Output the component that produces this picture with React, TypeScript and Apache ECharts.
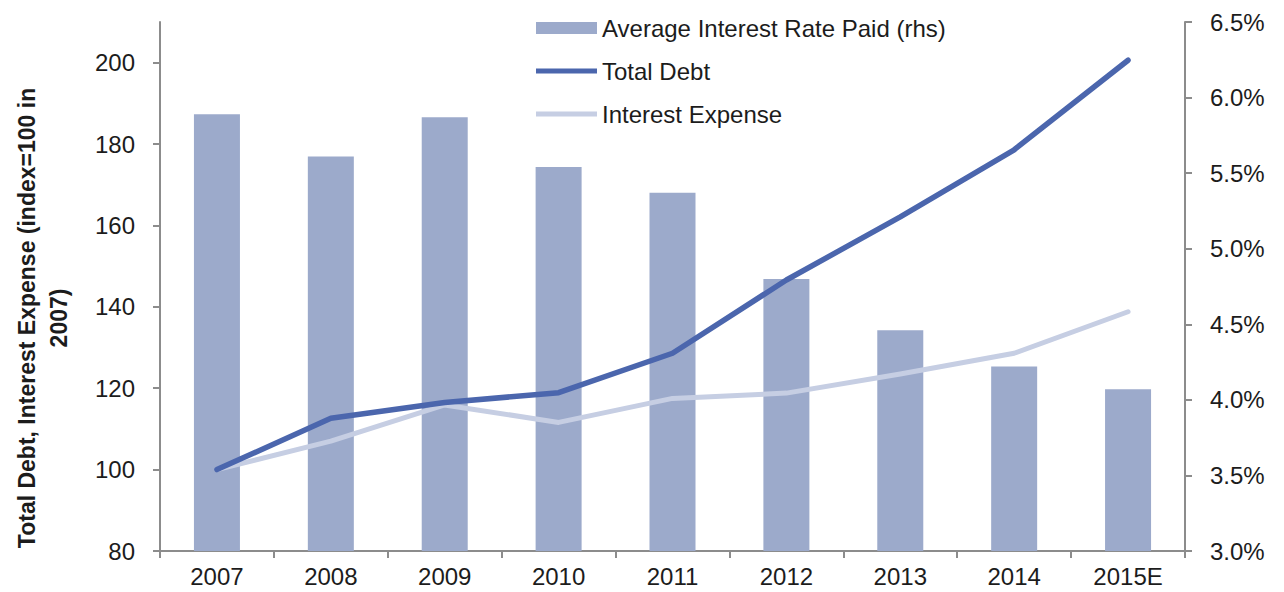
import React, { useEffect, useRef } from "react";
import * as echarts from "echarts";

const years = ["2007", "2008", "2009", "2010", "2011", "2012", "2013", "2014", "2015E"];
const avgRate = [5.89, 5.61, 5.87, 5.54, 5.37, 4.8, 4.46, 4.22, 4.07];
const totalDebt = [100, 112.6, 116.5, 118.9, 128.6, 146.6, 162.1, 178.6, 200.6];
const interestExpense = [100, 107.0, 115.9, 111.6, 117.5, 118.8, 123.5, 128.6, 138.8];
const leftTicks = [80, 100, 120, 140, 160, 180, 200];

const FONT = "'Liberation Sans', Arial, sans-serif";
const AXIS_COLOR = "#8c8c8c";
const TEXT_COLOR = "#1c1c1c";
const DEBT_COLOR = "#4b66ad";
const INT_COLOR = "#c6cee3";
const BAR_COLOR = "#9caacb";
const LINE_ICON = "path://M0,0H61V5H0Z";

export default function App() {
  const ref = useRef<HTMLDivElement>(null);

  useEffect(() => {
    if (!ref.current) return;
    const chart = echarts.init(ref.current, undefined, { renderer: "svg" });
    const axisLine = { show: true, lineStyle: { color: AXIS_COLOR, width: 2 } };
    const axisTick = { show: true, length: 7, lineStyle: { color: AXIS_COLOR, width: 2 } };
    chart.setOption({
      animation: false,
      textStyle: { fontFamily: FONT },
      grid: { left: 160, right: 99, top: 22, bottom: 41, containLabel: false },
      legend: {
        orient: "vertical",
        left: 536,
        top: 16,
        padding: 0,
        itemWidth: 61,
        itemHeight: 12,
        itemGap: 19,
        textStyle: { fontSize: 24, color: TEXT_COLOR, fontFamily: FONT },
        data: [
          { name: "Average Interest Rate Paid (rhs)", icon: "rect" },
          { name: "Total Debt", icon: LINE_ICON, itemStyle: { color: DEBT_COLOR } },
          { name: "Interest Expense", icon: LINE_ICON, itemStyle: { color: INT_COLOR } },
        ],
      },
      xAxis: {
        type: "category",
        data: years,
        boundaryGap: true,
        axisLine,
        axisTick,
        axisLabel: { fontSize: 24, color: TEXT_COLOR, margin: 13, fontFamily: FONT },
        splitLine: { show: false },
      },
      yAxis: [
        {
          type: "value",
          position: "left",
          min: 80,
          max: 210,
          interval: 20,
          axisLine,
          axisTick: { ...axisTick, customValues: leftTicks },
          axisLabel: {
            fontSize: 24,
            color: TEXT_COLOR,
            margin: 25,
            fontFamily: FONT,
            customValues: leftTicks,
          },
          splitLine: { show: false },
        },
        {
          type: "value",
          position: "right",
          min: 3,
          max: 6.5,
          interval: 0.5,
          axisLine,
          axisTick,
          axisLabel: {
            fontSize: 24,
            color: TEXT_COLOR,
            margin: 25,
            fontFamily: FONT,
            formatter: (v: number) => v.toFixed(1) + "%",
          },
          splitLine: { show: false },
        },
      ],
      graphic: [
        {
          type: "text",
          x: 43,
          y: 318,
          rotation: Math.PI / 2,
          style: {
            text: "Total Debt, Interest Expense (index=100 in\n2007)",
            font: `bold 23px ${FONT}`,
            fill: TEXT_COLOR,
            align: "center",
            verticalAlign: "middle",
            lineHeight: 32,
          },
        },
      ],
      series: [
        {
          name: "Average Interest Rate Paid (rhs)",
          type: "bar",
          yAxisIndex: 1,
          data: avgRate,
          barWidth: 46,
          itemStyle: { color: BAR_COLOR },
          z: 1,
        },
        {
          name: "Total Debt",
          type: "line",
          yAxisIndex: 0,
          data: totalDebt,
          showSymbol: false,
          symbol: "none",
          lineStyle: { color: DEBT_COLOR, width: 5.5, cap: "round", join: "round" },
          itemStyle: { color: DEBT_COLOR },
          z: 3,
        },
        {
          name: "Interest Expense",
          type: "line",
          yAxisIndex: 0,
          data: interestExpense,
          showSymbol: false,
          symbol: "none",
          lineStyle: { color: INT_COLOR, width: 5, cap: "round", join: "round" },
          itemStyle: { color: INT_COLOR },
          z: 2,
        },
      ],
    });
    return () => chart.dispose();
  }, []);

  return (
    <div
      ref={ref}
      style={{ position: "fixed", left: 0, top: 0, width: 1284, height: 592, background: "#fff" }}
    />
  );
}
